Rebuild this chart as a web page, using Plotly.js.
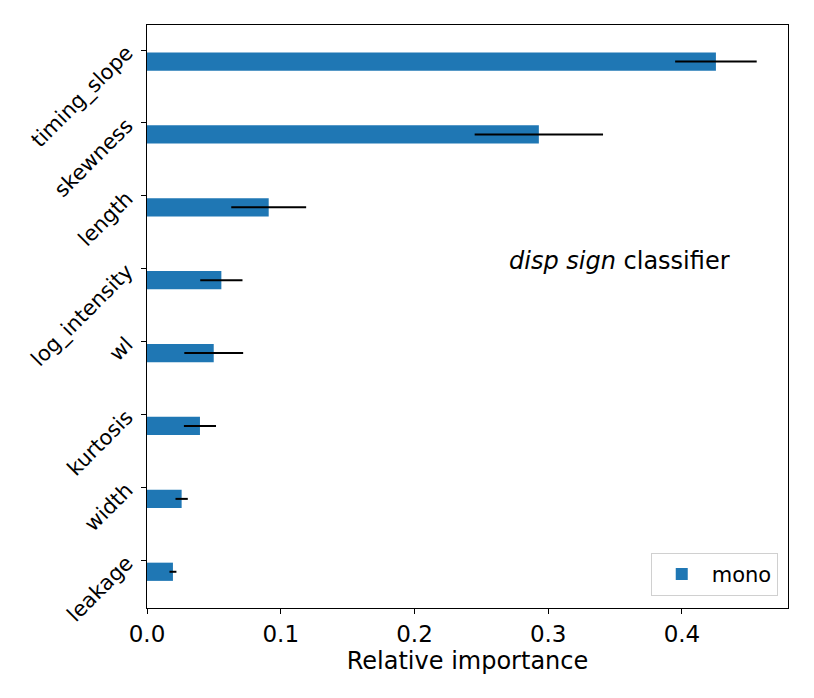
<!DOCTYPE html>
<html>
<head>
<meta charset="utf-8">
<script src="https://cdn.plot.ly/plotly-3.0.1.min.js"></script>
<style>html,body{margin:0;padding:0;background:#fff;}</style>
</head>
<body>
<div id="chart" style="width:814px;height:698px;"></div>
<script>
// Features, bottom to top
const features = ["leakage", "width", "kurtosis", "wl", "log_intensity", "length", "skewness", "timing_slope"];
// Relative importance for the "mono" model
const importance = [0.0194, 0.0259, 0.0396, 0.0499, 0.0556, 0.0910, 0.2930, 0.4254];
// Standard deviation (error bar half-length)
const importanceErr = [0.0026, 0.0046, 0.0120, 0.0220, 0.0158, 0.0280, 0.0480, 0.0305];
const seriesName = "mono";
const xTicks = [0.0, 0.1, 0.2, 0.3, 0.4];

const font = "DejaVu Sans, sans-serif";

const trace = {
  type: "bar",
  orientation: "h",
  name: seriesName,
  y: features,
  x: importance,
  width: 0.25,
  offset: -0.283,
  marker: {color: "#1f77b4", line: {width: 0}},
  error_x: {type: "data", array: importanceErr, visible: true, color: "#000000", thickness: 2, width: 0},
  hoverinfo: "x+y"
};

const layout = {
  width: 814,
  height: 698,
  margin: {l: 147, r: 26, t: 25, b: 90},
  paper_bgcolor: "#ffffff",
  plot_bgcolor: "#ffffff",
  font: {family: font, color: "#000000", size: 20},
  showlegend: true,
  legend: {
    x: 0.984, xanchor: "right", y: 0.021, yanchor: "bottom",
    bordercolor: "#d0d0d0", borderwidth: 1, bgcolor: "rgba(255,255,255,0.8)",
    itemwidth: 50,
    font: {family: font, size: 21, color: "#000000"}
  },
  xaxis: {
    range: [0, 0.4793],
    tickvals: xTicks,
    ticktext: xTicks.map(v => v.toFixed(1)),
    ticks: "outside", ticklen: 5, tickwidth: 1, tickcolor: "#000",
    showline: true, linecolor: "#000", linewidth: 1, mirror: true,
    showgrid: false, zeroline: false,
    tickfont: {family: font, size: 23, color: "#000"},
    title: {text: "Relative importance", font: {family: font, size: 24, color: "#000"}, standoff: 6}
  },
  yaxis: {
    type: "category",
    range: [-0.655, 7.343],
    ticks: "outside", ticklen: 5, tickwidth: 1, tickcolor: "#000",
    showline: true, linecolor: "#000", linewidth: 1, mirror: true,
    showgrid: false, zeroline: false,
    tickangle: -45,
    ticklabelstandoff: 10,
    tickfont: {family: font, size: 21, color: "#000"}
  },
  annotations: [{
    xref: "paper", yref: "paper",
    x: 0.737, y: 0.596,
    xanchor: "center", yanchor: "middle",
    text: "<i>disp sign</i> classifier",
    showarrow: false,
    font: {family: font, size: 24, color: "#000"}
  }]
};

Plotly.newPlot("chart", [trace], layout, {displayModeBar: false, staticPlot: true});
</script>
</body>
</html>
